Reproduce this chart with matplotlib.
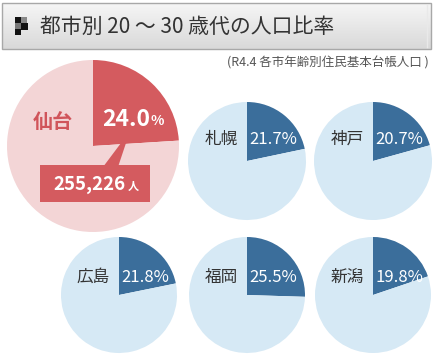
import matplotlib
matplotlib.use("Agg")
import matplotlib.pyplot as plt
import numpy as np
from matplotlib.patches import Rectangle, Polygon

# ---- data ----
title = "都市別 20 ～ 30 歳代の人口比率"
source = "(R4.4 各市年齢別住民基本台帳人口 )"
main_city = "仙台"
main_ratio = 24.0
main_pop = 255226
cities = ["札幌", "神戸", "広島", "福岡", "新潟"]
ratios = [21.7, 20.7, 21.8, 25.5, 19.8]

plt.rcParams['font.family'] = ['Noto Sans CJK JP', 'DejaVu Sans']

W, H = 435, 360
fig = plt.figure(figsize=(W / 100, H / 100), dpi=100)
ax = fig.add_axes([0, 0, 1, 1])

def Y(y):
    return H - y

# title box with gradient
grad = np.linspace(0, 1, 50).reshape(-1, 1)
ax.imshow(grad, cmap=matplotlib.colors.LinearSegmentedColormap.from_list("g", ["#f6f6f6", "#d9d9d9"]),
          extent=(2, 431, Y(49), Y(3)), origin="upper", aspect="auto", zorder=1)
ax.add_patch(Rectangle((2, Y(49)), 429, 46, fill=False, ec="#a8a8a8", lw=1.0, zorder=2))
ax.plot([427, 427], [Y(47), Y(5)], color="#e9e9e9", lw=1, zorder=2)
# icon
for (x0, y0, s, c) in [(15, 17, 6, "#111111"), (21, 17, 6, "#888888"),
                       (21, 23, 7, "#111111"), (15, 23, 6, "#777777"), (15, 29, 6, "#111111")]:
    ax.add_patch(Rectangle((x0, Y(y0 + s)), s, s, color=c, lw=0, zorder=3))
ax.text(40, Y(27), title, fontsize=15, color="#333333", va="center", ha="left", zorder=4)
ax.text(429, Y(63), source, fontsize=9, color="#555555", va="center", ha="right", zorder=4)

# Sendai pie
red = "#d45b5f"
pink = "#f3d5d6"
cx, cy, r = 93, 146, 86
ax.pie([main_ratio, 100 - main_ratio], colors=[red, pink], startangle=90, counterclock=False,
       center=(cx, Y(cy)), radius=r, frame=True, wedgeprops=dict(linewidth=0))
ax.text(53, Y(122), main_city, fontsize=14.5, fontweight="bold", color="#d0545a",
        ha="center", va="center", zorder=5)
ax.text(150, Y(119), f"{main_ratio:.1f}", fontsize=16.5, fontweight="bold", color="white",
        ha="right", va="center", zorder=5)
ax.text(151, Y(121), "%", fontsize=10, fontweight="bold", color="white",
        ha="left", va="center", zorder=5)
# callout
ax.add_patch(Polygon([(103, Y(167)), (118, Y(167)), (130, Y(131))], closed=True,
                     color=red, lw=0, zorder=4))
ax.add_patch(Rectangle((40, Y(202)), 110, 37, color=red, lw=0, zorder=4))
ax.text(126, Y(184), f"{main_pop:,}", fontsize=13.5, fontweight="bold", color="white",
        ha="right", va="center", zorder=5)
ax.text(128, Y(186), "人", fontsize=8, fontweight="bold", color="white",
        ha="left", va="center", zorder=5)

# small pies
blue = "#3b6e9b"
lblue = "#d6e9f5"
centers = [(247, 161, 59, -22), (373, 161, 59, -22),
           (119, 295, 58, -18), (247, 295, 58, -18), (373, 295, 58, -18)]
for (name, v, (x, y, rr, dy)) in zip(cities, ratios, centers):
    ax.pie([v, 100 - v], colors=[blue, lblue], startangle=90, counterclock=False,
           center=(x, Y(y)), radius=rr, frame=True, wedgeprops=dict(linewidth=0))
    ax.text(x - 26, Y(y + dy), name, fontsize=12, color="#333333",
            ha="center", va="center", zorder=5)
    ax.text(x + 26, Y(y + dy), f"{v:.1f}%", fontsize=12, color="white",
            ha="center", va="center", zorder=5)

ax.set_xlim(0, W)
ax.set_ylim(0, H)
ax.set_aspect("auto")
ax.axis("off")
fig.savefig("out.png", dpi=100, facecolor="white")
